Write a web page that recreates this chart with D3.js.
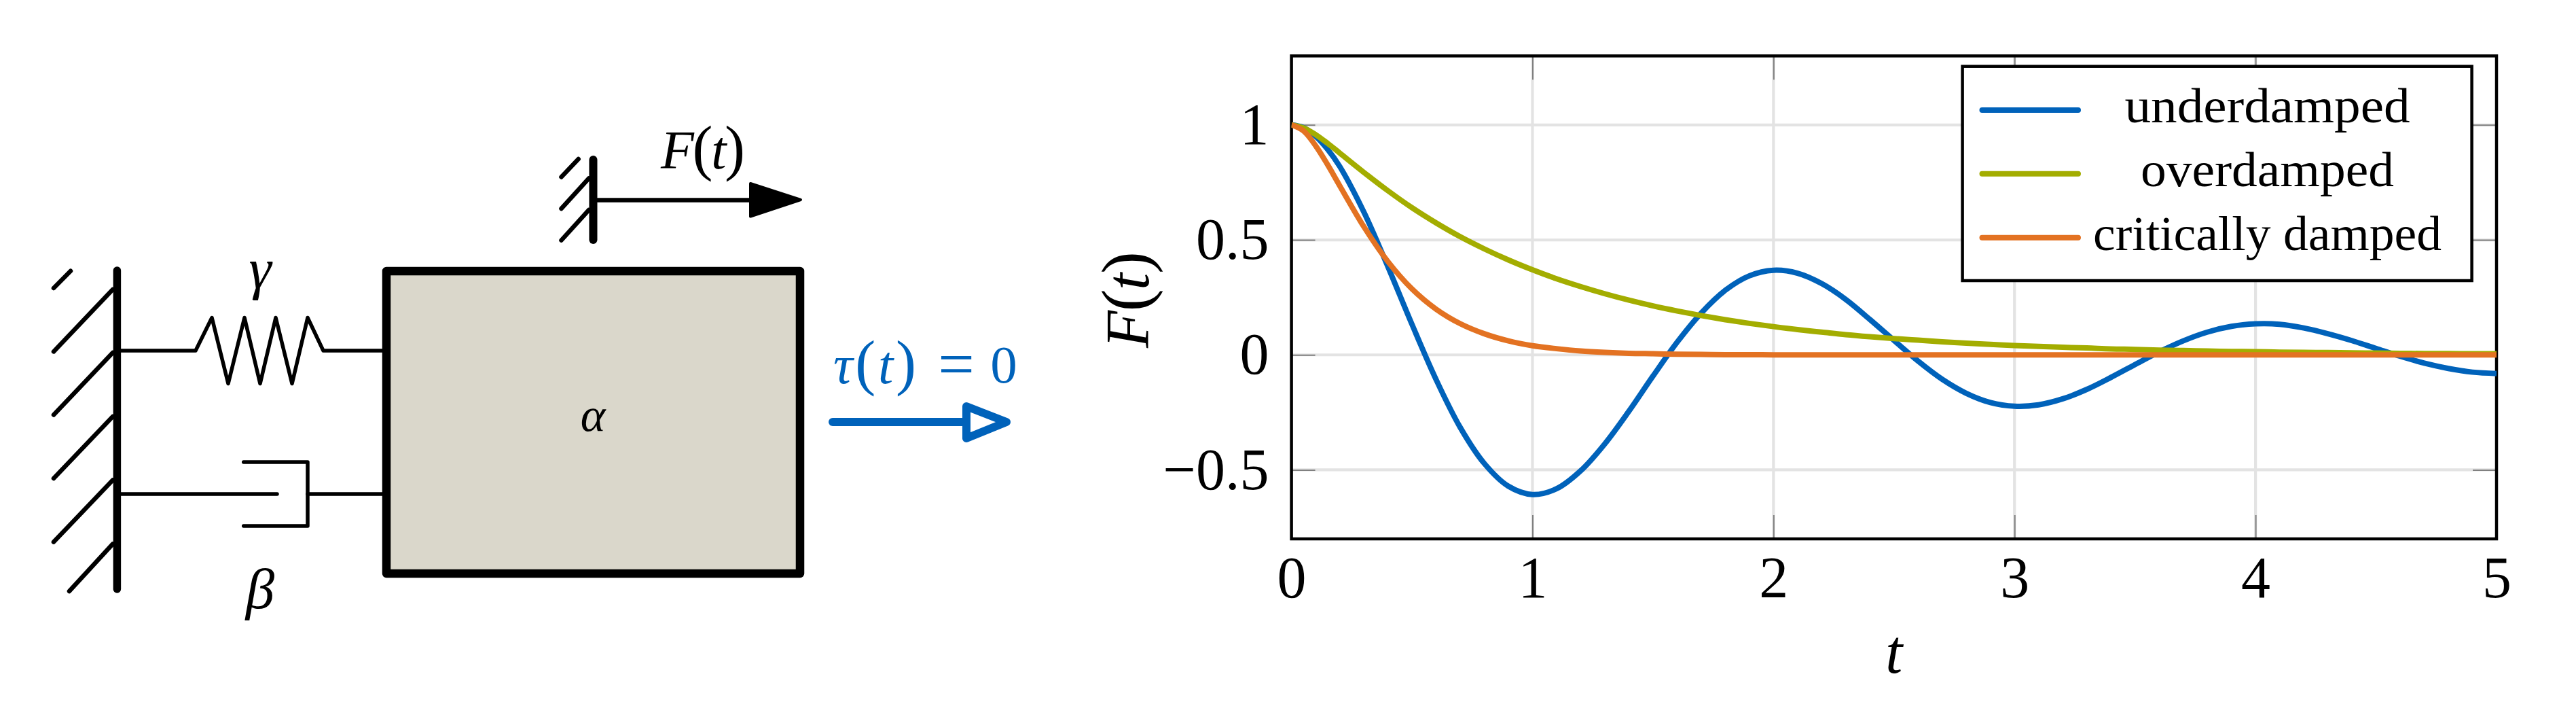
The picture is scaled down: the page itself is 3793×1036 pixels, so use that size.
<!DOCTYPE html>
<html>
<head>
    <meta charset="utf-8">
    <title>Damped response</title>
    <style>
        html, body { margin: 0; padding: 0; background: white; overflow: hidden; }
        svg { display: block; font-family: 'Liberation Serif', serif; }
    </style>
</head>
<body>
    <svg id="chart" width="3793" height="1036"></svg>
    <script src="https://cdnjs.cloudflare.com/ajax/libs/d3/7.6.1/d3.min.js"></script>
    <script>
        const tValues = [0, 0.05, 0.1, 0.15, 0.2, 0.3, 0.4, 0.5, 0.6, 0.7, 0.8, 0.9, 1,
            1.1, 1.2, 1.3, 1.4, 1.5, 1.6, 1.7, 1.8, 1.9, 2,
            2.1, 2.2, 2.3, 2.4, 2.5, 2.6, 2.7, 2.8, 2.9, 3,
            3.1, 3.2, 3.3, 3.4, 3.5, 3.6, 3.7, 3.8, 3.9, 4,
            4.1, 4.2, 4.3, 4.4, 4.5, 4.6, 4.7, 4.8, 4.9, 5];
        const underdamped = [1, 0.988, 0.951, 0.894, 0.82, 0.622, 0.384, 0.133, -0.107, -0.315, -0.472, -0.571, -0.607,
            -0.582, -0.504, -0.387, -0.245, -0.092, 0.055, 0.182, 0.281, 0.344, 0.368,
            0.355, 0.31, 0.241, 0.154, 0.063, -0.027, -0.106, -0.167, -0.207, -0.223,
            -0.217, -0.191, -0.15, -0.098, -0.042, 0.013, 0.061, 0.099, 0.124, 0.135,
            0.133, 0.117, 0.092, 0.062, 0.028, -0.006, -0.036, -0.059, -0.075, -0.081];
        const overdamped = [1, 0.987, 0.958, 0.92, 0.878, 0.794, 0.714, 0.64, 0.574, 0.514, 0.461, 0.413, 0.37,
            0.331, 0.297, 0.266, 0.238, 0.213, 0.191, 0.171, 0.153, 0.137, 0.123,
            0.11, 0.099, 0.088, 0.079, 0.071, 0.064, 0.057, 0.051, 0.046, 0.041,
            0.037, 0.033, 0.03, 0.026, 0.024, 0.021, 0.019, 0.017, 0.015, 0.014,
            0.012, 0.011, 0.01, 0.009, 0.008, 0.007, 0.006, 0.006, 0.005, 0.005];
        const criticallyDamped = [1, 0.974, 0.91, 0.827, 0.736, 0.558, 0.406, 0.287, 0.199, 0.136, 0.092, 0.061, 0.04,
            0.027, 0.017, 0.011, 0.007, 0.005, 0.003, 0.002, 0.001, 0.001, 0,
            0, 0, 0, 0, 0, 0, 0, 0, 0, 0,
            0, 0, 0, 0, 0, 0, 0, 0, 0, 0,
            0, 0, 0, 0, 0, 0, 0, 0, 0, 0];
        const seriesNames = ["underdamped", "overdamped", "critically damped"];
        const seriesValues = [underdamped, overdamped, criticallyDamped];
        const xTicks = [0, 1, 2, 3, 4, 5];
        const yTicks = [-0.5, 0, 0.5, 1];

        const blue = "#0062BA", olive = "#A3AD00", orange = "#E37222", ivory = "#DAD7CB";
        const svg = d3.select("#chart");

        // ---- plot ----
        const plot = { left: 1901.6, right: 3676, top: 82.3, bottom: 793 };
        const x = d3.scaleLinear().domain([0, 5]).range([plot.left, plot.right]);
        const y = d3.scaleLinear().domain([-0.8, 1.3]).range([plot.bottom, plot.top]);
        const plotW = plot.right - plot.left, plotH = plot.bottom - plot.top;

        svg.append("clipPath").attr("id", "plot-clip").append("rect")
            .attr("x", plot.left).attr("y", plot.top).attr("width", plotW).attr("height", plotH);

        // grid
        svg.append("g").selectAll("line").data(xTicks.slice(1, -1)).enter().append("line")
            .attr("x1", x).attr("x2", x).attr("y1", plot.top).attr("y2", plot.bottom)
            .attr("stroke", "#e3e3e3").attr("stroke-width", 4.2);
        svg.append("g").selectAll("line").data(yTicks).enter().append("line")
            .attr("x1", plot.left).attr("x2", plot.right).attr("y1", y).attr("y2", y)
            .attr("stroke", "#e3e3e3").attr("stroke-width", 4.2);

        // ticks, all four sides
        function styleAxis(g) {
            g.select(".domain").remove();
            g.selectAll(".tick line").attr("stroke", "#808080").attr("stroke-width", 2);
            g.selectAll("text").attr("fill", "black").attr("font-size", 86);
        }
        const fmt = d => String(d).replace("-", "\u2212");
        const tickLen = 35;
        svg.append("g").attr("transform", `translate(0,${plot.bottom})`)
            .call(d3.axisBottom(x).tickValues(xTicks).tickFormat(fmt).tickSizeOuter(0).tickSizeInner(-tickLen).tickPadding(25))
            .attr("font-family", null).call(styleAxis);
        svg.append("g").attr("transform", `translate(0,${plot.top})`)
            .call(d3.axisTop(x).tickValues(xTicks).tickFormat("").tickSizeOuter(0).tickSizeInner(-tickLen))
            .call(styleAxis);
        svg.append("g").attr("transform", `translate(${plot.left},0)`)
            .call(d3.axisLeft(y).tickValues(yTicks).tickFormat(fmt).tickSizeOuter(0).tickSizeInner(-tickLen).tickPadding(33))
            .attr("font-family", null).call(styleAxis);
        svg.append("g").attr("transform", `translate(${plot.right},0)`)
            .call(d3.axisRight(y).tickValues(yTicks).tickFormat("").tickSizeOuter(0).tickSizeInner(-tickLen))
            .call(styleAxis);

        svg.append("rect").attr("x", plot.left).attr("y", plot.top)
            .attr("width", plotW).attr("height", plotH)
            .attr("fill", "none").attr("stroke", "black").attr("stroke-width", 4.5);

        // curves
        const line = d3.line()
            .x((d, i) => x(tValues[i]))
            .y(d => y(d))
            .curve(d3.curveCatmullRom.alpha(0.5));
        const colors = [blue, olive, orange];
        svg.append("g").attr("clip-path", "url(#plot-clip)")
            .selectAll("path").data(seriesValues).enter().append("path")
            .attr("d", line).attr("fill", "none")
            .attr("stroke", (d, i) => colors[i]).attr("stroke-width", 8);

        // parts are [string, italic, font size override]
        function mathText(parent, parts, size, fill) {
            const t = parent.append("text").attr("font-size", size).attr("fill", fill || "black");
            parts.forEach(p => {
                t.append("tspan").attr("font-style", p[1] ? "italic" : "normal")
                    .attr("font-size", p[2] || size).text(p[0]);
            });
            return t;
        }

        // axis labels
        mathText(svg, [["t", 1]], 90).attr("x", x(2.5)).attr("y", 990).attr("text-anchor", "middle");
        mathText(svg, [["F", 1], ["(", 0, 99], ["t", 1], [")", 0, 99]], 90)
            .attr("text-anchor", "middle").attr("textLength", 142)
            .attr("transform", "translate(1691,441) rotate(-90)");

        // legend
        const legendWidths = [420, 373, 513];
        const legend = { left: 2889.6, right: 3639.6, top: 97.7, bottom: 413 };
        svg.append("rect").attr("x", legend.left).attr("y", legend.top)
            .attr("width", legend.right - legend.left).attr("height", legend.bottom - legend.top)
            .attr("fill", "white").attr("stroke", "black").attr("stroke-width", 4.5);
        const legendY = d3.scalePoint().domain(seriesNames).range([162, 349.7]);
        const legendRows = svg.append("g").selectAll("g").data(seriesNames).enter().append("g");
        legendRows.append("line")
            .attr("x1", 2918.5).attr("x2", 3060)
            .attr("y1", d => legendY(d)).attr("y2", d => legendY(d))
            .attr("stroke", (d, i) => colors[i]).attr("stroke-width", 8).attr("stroke-linecap", "round");
        legendRows.append("text")
            .attr("x", 3338.5).attr("y", d => legendY(d) + 18)
            .attr("text-anchor", "middle").attr("font-size", 72).attr("fill", "black")
            .attr("textLength", (d, i) => legendWidths[i]).attr("lengthAdjust", "spacingAndGlyphs")
            .text(d => d);

        // ---- schematic ----
        const path = d3.line();
        function stroke(points, width, color) {
            return svg.append("path").attr("d", path(points)).attr("fill", "none")
                .attr("stroke", color || "black").attr("stroke-width", width)
                .attr("stroke-linecap", "round").attr("stroke-linejoin", "round");
        }

        // mass
        svg.append("rect").attr("x", 569).attr("y", 399).attr("width", 609).attr("height", 445)
            .attr("fill", ivory).attr("stroke", "black").attr("stroke-width", 12.5).attr("stroke-linejoin", "round");

        // left wall
        const wallHatch = [
            [[79, 424], [104, 398.7]],
            [[79, 517.4], [166, 426]],
            [[79, 610.5], [166, 519]],
            [[79, 704], [166, 613]],
            [[79, 797.6], [166, 706.5]],
            [[102, 870], [166, 800.5]]
        ];
        wallHatch.forEach(h => stroke(h, 6.5));
        stroke([[172.4, 398], [172.4, 867]], 11.5);

        // spring
        stroke([[172, 516], [288, 516], [312, 467.5], [336, 564.5], [360, 467.5], [383, 564.5],
            [406, 467.5], [430, 564.5], [453, 467.5], [476, 516], [563, 516]], 5.5);

        // damper
        stroke([[172, 727], [408, 727]], 5.5);
        stroke([[358.7, 680], [453, 680], [453, 774], [358.7, 774]], 5.5);
        stroke([[453, 727], [563, 727]], 5.5);

        // force wall and arrow
        [[[826.5, 260.5], [851.7, 234]], [[826.5, 307], [867, 262.5]], [[826.5, 353.6], [867, 309]]]
            .forEach(h => stroke(h, 6.5));
        stroke([[873.5, 235], [873.5, 353]], 12);
        stroke([[873, 294.5], [1105, 294.5]], 6.5);
        svg.append("path").attr("d", path([[1105, 270], [1179, 294], [1105, 318.5]]) + "Z")
            .attr("fill", "black").attr("stroke", "black").attr("stroke-width", 4).attr("stroke-linejoin", "round");

        // torque arrow
        stroke([[1226, 621], [1423, 621]], 12, blue);
        svg.append("path").attr("d", path([[1423, 598], [1482, 621], [1423, 645]]) + "Z")
            .attr("fill", "white").attr("stroke", blue).attr("stroke-width", 12).attr("stroke-linejoin", "round");

        // symbols
        mathText(svg, [["\u03B3", 1]], 84).attr("x", 383).attr("y", 424).attr("text-anchor", "middle");
        mathText(svg, [["\u03B2", 1]], 85).attr("x", 383).attr("y", 895).attr("text-anchor", "middle");
        mathText(svg, [["\u03B1", 1]], 70).attr("x", 873).attr("y", 634).attr("text-anchor", "middle");
        mathText(svg, [["F", 1], ["(", 0, 90], ["t", 1], [")", 0, 90]], 80)
            .attr("x", 973).attr("y", 248).attr("textLength", 124);
        mathText(svg, [["\u03C4", 1], ["(", 0, 90], ["t", 1], [")", 0, 90]], 80, blue)
            .attr("x", 1227).attr("y", 564).attr("textLength", 122);
        mathText(svg, [["=", 0]], 95, blue).attr("x", 1408).attr("y", 568).attr("text-anchor", "middle");
        mathText(svg, [["0", 0]], 79, blue).attr("x", 1478).attr("y", 563).attr("text-anchor", "middle");
    </script>
</body>
</html>
